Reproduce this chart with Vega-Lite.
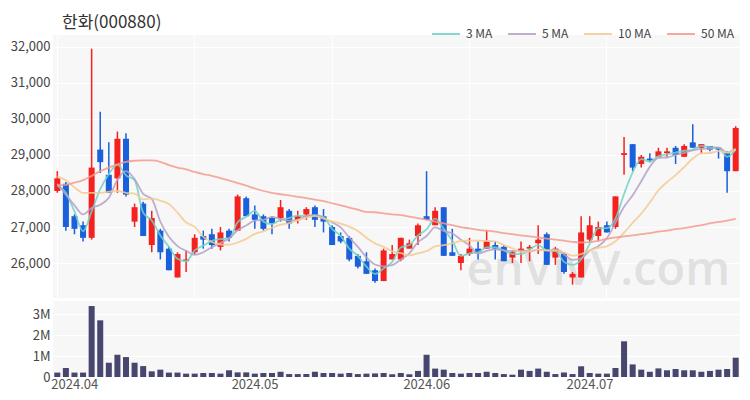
{
  "$schema": "https://vega.github.io/schema/vega-lite/v6.json",
  "padding": {"left": 8, "top": 14, "right": 5, "bottom": 4},
  "background": "white",
  "spacing": 3,
  "config": {
    "font": "Noto Sans CJK KR",
    "view": {"fill": "#f7f7f7", "stroke": null},
    "axis": {"labelFont": "Noto Sans CJK KR", "labelFontSize": 13, "labelColor": "#444444", "domain": false, "ticks": false, "gridColor": "#ffffff", "gridWidth": 1.2, "title": null}
  },
  "datasets": {
    "d": [
      {"date":"2024-04-01","open":28000,"high":28550,"low":27950,"close":28350,"volume":210000,"ma3":28150,"ma5":28200,"ma10":28400,"ma50":28160},
      {"date":"2024-04-02","open":28200,"high":28250,"low":26900,"close":27000,"volume":430000,"ma3":27950,"ma5":27900,"ma10":28300,"ma50":28170},
      {"date":"2024-04-03","open":27300,"high":27350,"low":26800,"close":26950,"volume":210000,"ma3":27433,"ma5":27600,"ma10":28100,"ma50":28230},
      {"date":"2024-04-04","open":27050,"high":27150,"low":26600,"close":26700,"volume":210000,"ma3":26883,"ma5":27350,"ma10":27950,"ma50":28300},
      {"date":"2024-04-05","open":26700,"high":31950,"low":26650,"close":28650,"volume":3380000,"ma3":27433,"ma5":27530,"ma10":27950,"ma50":28420},
      {"date":"2024-04-08","open":29150,"high":30200,"low":28500,"close":28800,"volume":2700000,"ma3":28050,"ma5":27620,"ma10":27950,"ma50":28550},
      {"date":"2024-04-09","open":28450,"high":29350,"low":27950,"close":27950,"volume":680000,"ma3":28467,"ma5":27810,"ma10":27980,"ma50":28650},
      {"date":"2024-04-11","open":28350,"high":29650,"low":27950,"close":29450,"volume":1060000,"ma3":28733,"ma5":28310,"ma10":28000,"ma50":28740},
      {"date":"2024-04-12","open":29450,"high":29600,"low":27850,"close":27900,"volume":950000,"ma3":28433,"ma5":28550,"ma10":27950,"ma50":28810},
      {"date":"2024-04-15","open":27150,"high":27650,"low":27000,"close":27550,"volume":680000,"ma3":28300,"ma5":28330,"ma10":27930,"ma50":28840},
      {"date":"2024-04-16","open":27650,"high":27700,"low":26750,"close":26750,"volume":520000,"ma3":27400,"ma5":27920,"ma10":27770,"ma50":28850},
      {"date":"2024-04-17","open":26500,"high":27450,"low":26300,"close":27250,"volume":270000,"ma3":27183,"ma5":27780,"ma10":27795,"ma50":28850},
      {"date":"2024-04-18","open":26900,"high":26950,"low":26100,"close":26300,"volume":350000,"ma3":26767,"ma5":27150,"ma10":27730,"ma50":28810},
      {"date":"2024-04-19","open":26400,"high":26450,"low":25800,"close":25800,"volume":210000,"ma3":26450,"ma5":26730,"ma10":27640,"ma50":28720},
      {"date":"2024-04-22","open":25600,"high":26300,"low":25600,"close":26250,"volume":210000,"ma3":26117,"ma5":26470,"ma10":27400,"ma50":28650},
      {"date":"2024-04-23","open":26050,"high":26350,"low":25750,"close":26100,"volume":160000,"ma3":26050,"ma5":26340,"ma10":27130,"ma50":28600},
      {"date":"2024-04-24","open":26300,"high":26800,"low":26250,"close":26700,"volume":160000,"ma3":26350,"ma5":26230,"ma10":27005,"ma50":28530},
      {"date":"2024-04-25","open":26750,"high":26900,"low":26400,"close":26650,"volume":190000,"ma3":26483,"ma5":26300,"ma10":26725,"ma50":28470},
      {"date":"2024-04-26","open":26800,"high":26950,"low":26400,"close":26500,"volume":190000,"ma3":26617,"ma5":26440,"ma10":26585,"ma50":28420},
      {"date":"2024-04-29","open":26450,"high":27000,"low":26350,"close":26850,"volume":160000,"ma3":26667,"ma5":26560,"ma10":26515,"ma50":28360},
      {"date":"2024-04-30","open":26900,"high":26950,"low":26600,"close":26700,"volume":320000,"ma3":26683,"ma5":26680,"ma10":26510,"ma50":28290},
      {"date":"2024-05-02","open":26900,"high":27900,"low":26900,"close":27850,"volume":220000,"ma3":27133,"ma5":26910,"ma10":26570,"ma50":28220},
      {"date":"2024-05-03","open":27800,"high":27850,"low":27300,"close":27300,"volume":220000,"ma3":27283,"ma5":27040,"ma10":26670,"ma50":28150},
      {"date":"2024-05-07","open":27350,"high":27600,"low":26950,"close":27200,"volume":160000,"ma3":27450,"ma5":27180,"ma10":26810,"ma50":28070},
      {"date":"2024-05-08","open":27300,"high":27350,"low":26900,"close":26950,"volume":190000,"ma3":27150,"ma5":27200,"ma10":26880,"ma50":28000},
      {"date":"2024-05-09","open":27250,"high":27300,"low":26800,"close":27100,"volume":190000,"ma3":27083,"ma5":27280,"ma10":26980,"ma50":27950},
      {"date":"2024-05-10","open":27250,"high":27750,"low":27150,"close":27550,"volume":250000,"ma3":27200,"ma5":27220,"ma10":27065,"ma50":27910},
      {"date":"2024-05-13","open":27450,"high":27500,"low":26950,"close":27100,"volume":140000,"ma3":27250,"ma5":27180,"ma10":27110,"ma50":27880},
      {"date":"2024-05-14","open":27200,"high":27450,"low":27100,"close":27300,"volume":140000,"ma3":27317,"ma5":27200,"ma10":27190,"ma50":27840},
      {"date":"2024-05-16","open":27350,"high":27550,"low":27200,"close":27500,"volume":140000,"ma3":27300,"ma5":27310,"ma10":27255,"ma50":27800},
      {"date":"2024-05-17","open":27550,"high":27600,"low":27000,"close":27200,"volume":250000,"ma3":27333,"ma5":27330,"ma10":27305,"ma50":27760},
      {"date":"2024-05-20","open":27300,"high":27500,"low":26850,"close":27150,"volume":190000,"ma3":27283,"ma5":27250,"ma10":27235,"ma50":27720},
      {"date":"2024-05-21","open":27000,"high":27050,"low":26500,"close":26500,"volume":190000,"ma3":26950,"ma5":27130,"ma10":27155,"ma50":27660},
      {"date":"2024-05-22","open":26750,"high":26850,"low":26550,"close":26600,"volume":160000,"ma3":26750,"ma5":26990,"ma10":27095,"ma50":27600},
      {"date":"2024-05-23","open":26700,"high":26750,"low":26050,"close":26100,"volume":190000,"ma3":26400,"ma5":26710,"ma10":27010,"ma50":27540},
      {"date":"2024-05-24","open":26200,"high":26250,"low":25850,"close":25900,"volume":140000,"ma3":26200,"ma5":26450,"ma10":26890,"ma50":27480},
      {"date":"2024-05-27","open":26050,"high":26300,"low":25700,"close":25700,"volume":160000,"ma3":25900,"ma5":26160,"ma10":26705,"ma50":27420},
      {"date":"2024-05-28","open":25800,"high":25850,"low":25450,"close":25500,"volume":170000,"ma3":25700,"ma5":25960,"ma10":26545,"ma50":27410},
      {"date":"2024-05-29","open":25500,"high":26400,"low":25500,"close":26350,"volume":190000,"ma3":25850,"ma5":25910,"ma10":26450,"ma50":27380},
      {"date":"2024-05-30","open":26100,"high":26500,"low":26100,"close":26250,"volume":130000,"ma3":26033,"ma5":25940,"ma10":26325,"ma50":27350},
      {"date":"2024-05-31","open":26100,"high":26700,"low":26050,"close":26700,"volume":190000,"ma3":26433,"ma5":26100,"ma10":26275,"ma50":27330},
      {"date":"2024-06-03","open":26400,"high":26650,"low":26400,"close":26550,"volume":130000,"ma3":26500,"ma5":26270,"ma10":26215,"ma50":27290},
      {"date":"2024-06-04","open":26750,"high":27100,"low":26500,"close":27050,"volume":290000,"ma3":26767,"ma5":26580,"ma10":26270,"ma50":27250},
      {"date":"2024-06-05","open":27300,"high":28550,"low":27200,"close":27200,"volume":1060000,"ma3":26933,"ma5":26750,"ma10":26330,"ma50":27200},
      {"date":"2024-06-07","open":27050,"high":27550,"low":27050,"close":27450,"volume":400000,"ma3":27233,"ma5":26990,"ma10":26465,"ma50":27150},
      {"date":"2024-06-10","open":27550,"high":27550,"low":26200,"close":26200,"volume":350000,"ma3":26950,"ma5":26890,"ma10":26495,"ma50":27100},
      {"date":"2024-06-11","open":26300,"high":26950,"low":26200,"close":26200,"volume":190000,"ma3":26617,"ma5":26820,"ma10":26545,"ma50":27050},
      {"date":"2024-06-12","open":26000,"high":26250,"low":25800,"close":26200,"volume":160000,"ma3":26200,"ma5":26650,"ma10":26615,"ma50":27000},
      {"date":"2024-06-13","open":26250,"high":26700,"low":26200,"close":26400,"volume":190000,"ma3":26267,"ma5":26490,"ma10":26620,"ma50":26960},
      {"date":"2024-06-14","open":26400,"high":26600,"low":26100,"close":26300,"volume":190000,"ma3":26300,"ma5":26260,"ma10":26625,"ma50":26920},
      {"date":"2024-06-17","open":26400,"high":26900,"low":26400,"close":26600,"volume":250000,"ma3":26433,"ma5":26340,"ma10":26615,"ma50":26900},
      {"date":"2024-06-18","open":26500,"high":26600,"low":26100,"close":26400,"volume":190000,"ma3":26433,"ma5":26380,"ma10":26600,"ma50":26870},
      {"date":"2024-06-19","open":26450,"high":26500,"low":26050,"close":26050,"volume":140000,"ma3":26350,"ma5":26350,"ma10":26500,"ma50":26830},
      {"date":"2024-06-20","open":26150,"high":26350,"low":26000,"close":26300,"volume":110000,"ma3":26250,"ma5":26330,"ma10":26410,"ma50":26800},
      {"date":"2024-06-21","open":26350,"high":26600,"low":26000,"close":26400,"volume":350000,"ma3":26250,"ma5":26350,"ma10":26305,"ma50":26770},
      {"date":"2024-06-24","open":26400,"high":26500,"low":26050,"close":26450,"volume":290000,"ma3":26383,"ma5":26320,"ma10":26330,"ma50":26740},
      {"date":"2024-06-25","open":26550,"high":27050,"low":26250,"close":26650,"volume":400000,"ma3":26500,"ma5":26370,"ma10":26375,"ma50":26710},
      {"date":"2024-06-26","open":26800,"high":26850,"low":25950,"close":25950,"volume":250000,"ma3":26350,"ma5":26350,"ma10":26350,"ma50":26680},
      {"date":"2024-06-27","open":26150,"high":26450,"low":25950,"close":26400,"volume":140000,"ma3":26333,"ma5":26370,"ma10":26350,"ma50":26650},
      {"date":"2024-06-28","open":26250,"high":26300,"low":25700,"close":25750,"volume":220000,"ma3":26033,"ma5":26240,"ma10":26295,"ma50":26620},
      {"date":"2024-07-01","open":25600,"high":25750,"low":25400,"close":25700,"volume":140000,"ma3":25950,"ma5":26090,"ma10":26205,"ma50":26590},
      {"date":"2024-07-02","open":25600,"high":27300,"low":25600,"close":26850,"volume":510000,"ma3":26100,"ma5":26130,"ma10":26250,"ma50":26570},
      {"date":"2024-07-03","open":26650,"high":27300,"low":26600,"close":27050,"volume":190000,"ma3":26533,"ma5":26350,"ma10":26350,"ma50":26580},
      {"date":"2024-07-04","open":26750,"high":27150,"low":26600,"close":27000,"volume":160000,"ma3":26967,"ma5":26470,"ma10":26420,"ma50":26620},
      {"date":"2024-07-05","open":27050,"high":27150,"low":26850,"close":26850,"volume":160000,"ma3":26967,"ma5":26690,"ma10":26465,"ma50":26670},
      {"date":"2024-07-08","open":27000,"high":27850,"low":26950,"close":27850,"volume":430000,"ma3":27233,"ma5":27120,"ma10":26605,"ma50":26710},
      {"date":"2024-07-09","open":29000,"high":29500,"low":28450,"close":29050,"volume":1700000,"ma3":27917,"ma5":27560,"ma10":26845,"ma50":26740},
      {"date":"2024-07-10","open":29300,"high":29300,"low":28550,"close":28650,"volume":600000,"ma3":28517,"ma5":27880,"ma10":27115,"ma50":26770},
      {"date":"2024-07-11","open":28750,"high":29000,"low":28650,"close":28950,"volume":350000,"ma3":28883,"ma5":28270,"ma10":27370,"ma50":26800},
      {"date":"2024-07-12","open":28900,"high":29050,"low":28800,"close":28850,"volume":250000,"ma3":28817,"ma5":28670,"ma10":27680,"ma50":26830},
      {"date":"2024-07-15","open":28950,"high":29200,"low":28950,"close":29100,"volume":410000,"ma3":28967,"ma5":28920,"ma10":28020,"ma50":26870},
      {"date":"2024-07-16","open":29050,"high":29200,"low":28950,"close":29100,"volume":320000,"ma3":29017,"ma5":28930,"ma10":28245,"ma50":26900},
      {"date":"2024-07-17","open":29200,"high":29250,"low":28750,"close":29000,"volume":380000,"ma3":29067,"ma5":29000,"ma10":28440,"ma50":26940},
      {"date":"2024-07-18","open":28950,"high":29300,"low":28950,"close":29250,"volume":320000,"ma3":29117,"ma5":29060,"ma10":28665,"ma50":26970},
      {"date":"2024-07-19","open":29350,"high":29850,"low":29200,"close":29200,"volume":320000,"ma3":29150,"ma5":29130,"ma10":28900,"ma50":27010},
      {"date":"2024-07-22","open":29200,"high":29300,"low":29050,"close":29300,"volume":250000,"ma3":29250,"ma5":29170,"ma10":29045,"ma50":27050},
      {"date":"2024-07-23","open":29250,"high":29250,"low":29100,"close":29150,"volume":290000,"ma3":29217,"ma5":29180,"ma10":29055,"ma50":27100},
      {"date":"2024-07-24","open":29200,"high":29200,"low":28900,"close":29150,"volume":350000,"ma3":29200,"ma5":29210,"ma10":29105,"ma50":27140},
      {"date":"2024-07-25","open":29050,"high":29100,"low":27950,"close":28550,"volume":380000,"ma3":28950,"ma5":29070,"ma10":29065,"ma50":27180},
      {"date":"2024-07-26","open":28550,"high":29800,"low":28550,"close":29750,"volume":920000,"ma3":29150,"ma5":29180,"ma10":29155,"ma50":27230}
    ]
  },
  "vconcat": [
    {
      "width": 687,
      "height": 263,
      "title": {"text": "한화(000880)", "anchor": "start", "frame": "group", "fontSize": 17, "fontWeight": "normal", "color": "#333333", "font": "Noto Sans CJK KR", "dx": 9, "offset": 3},
      "data": {"name": "d"},
      "encoding": {
        "x": {"field": "date", "type": "ordinal", "scale": {"paddingInner": 0.3, "paddingOuter": 0.15},
              "axis": {"labels": false, "grid": true, "values": ["2024-04-01", "2024-04-24", "2024-05-21", "2024-06-13", "2024-07-05"], "title": null}}
      },
      "layer": [
        {
          "data": {"values": [{"label": "enVivV.com"}]},
          "mark": {"type": "text", "fontSize": 47, "font": "Open Sans", "fontWeight": 600, "color": "#d9d9d9", "opacity": 0.75},
          "encoding": {
            "x": {"datum": "2024-07-04", "type": "ordinal"},
            "y": {"datum": 25790, "type": "quantitative", "scale": {"domain": [25030, 32330], "nice": false, "zero": false},
                  "axis": {"values": [26000, 27000, 28000, 29000, 30000, 31000, 32000], "labelExpr": "format(datum.value, ',')", "grid": true, "minExtent": 45, "maxExtent": 45, "labelPadding": 3, "title": null}},
            "text": {"field": "label"}
          }
        },
        {
          "mark": {"type": "rule", "strokeWidth": 1.5},
          "encoding": {
            "y": {"field": "low", "type": "quantitative"},
            "y2": {"field": "high"},
            "color": {"condition": {"test": "datum.close >= datum.open", "value": "#f5211f"}, "value": "#1a5fdc"}
          }
        },
        {
          "mark": {"type": "bar"},
          "encoding": {
            "y": {"field": "open", "type": "quantitative"},
            "y2": {"field": "close"},
            "color": {"condition": {"test": "datum.close >= datum.open", "value": "#f5211f"}, "value": "#1a5fdc"}
          }
        },
        {
          "transform": [{"fold": ["ma3", "ma5", "ma10", "ma50"], "as": ["key", "value"]}],
          "mark": {"type": "line", "strokeWidth": 1.8, "opacity": 0.85, "interpolate": "monotone"},
          "encoding": {
            "y": {"field": "value", "type": "quantitative"},
            "color": {"field": "key", "type": "nominal",
                      "scale": {"domain": ["ma3", "ma5", "ma10", "ma50"], "range": ["#6fd3c6", "#b2a1c4", "#f4ca92", "#f49b8e"]},
                      "legend": {"orient": "none", "legendX": 378, "legendY": -16, "direction": "horizontal", "title": null,
                                 "symbolType": "stroke", "symbolSize": 784, "symbolStrokeWidth": 2,
                                 "labelFontSize": 12, "labelColor": "#444444", "labelFont": "Noto Sans CJK KR", "columnPadding": 11, "labelOffset": 5,
                                 "labelExpr": "replace(datum.value, 'ma', '') + ' MA'"}}
          }
        }
      ]
    },
    {
      "width": 687,
      "height": 76,
      "data": {"name": "d"},
      "mark": {"type": "bar", "color": "#46466e"},
      "encoding": {
        "x": {"field": "date", "type": "ordinal", "scale": {"paddingInner": 0.3, "paddingOuter": 0.15},
              "axis": {"values": ["2024-04-01", "2024-05-02", "2024-06-03", "2024-07-01"], "labelExpr": "slice(datum.value, 0, 4) + '.' + slice(datum.value, 5, 7)",
                       "labelAngle": 0, "labelAlign": "left", "labelOffset": -6, "labelPadding": 1, "grid": false, "labelColor": "#555555", "title": null}},
        "y": {"field": "volume", "type": "quantitative", "scale": {"domain": [0, 3620000], "nice": false},
              "axis": {"values": [0, 1000000, 2000000, 3000000], "labelExpr": "datum.value == 0 ? '0' : format(datum.value / 1000000, 'd') + 'M'", "grid": true, "minExtent": 45, "maxExtent": 45, "labelPadding": 3, "title": null}}
      }
    }
  ]
}
